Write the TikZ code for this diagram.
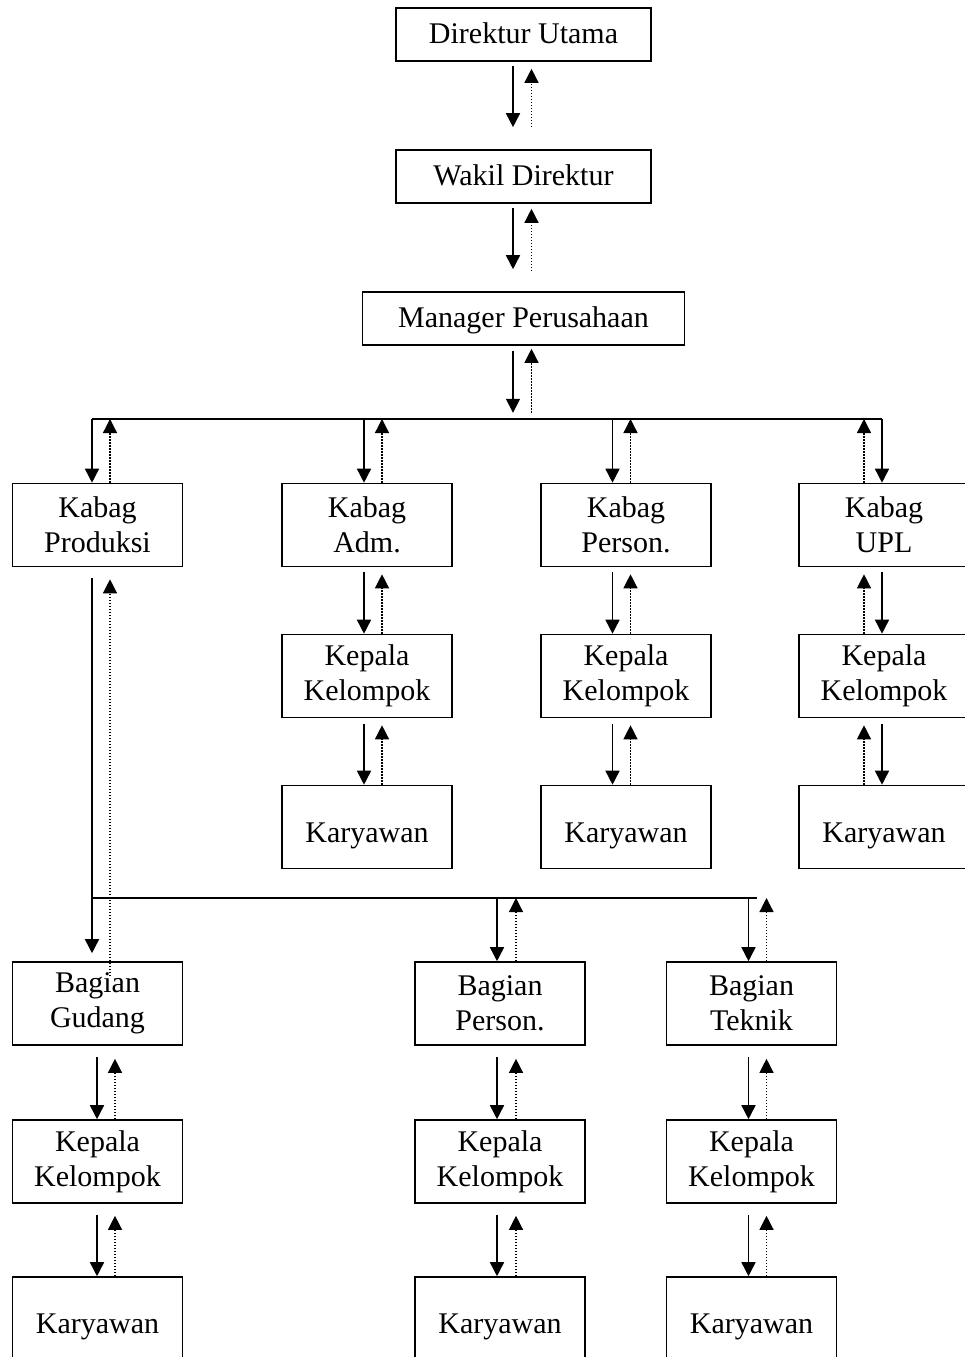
\documentclass[tikz,border=0pt]{standalone}
\usepackage{fontspec}
\setmainfont{Liberation Serif}
\usetikzlibrary{arrows.meta}

\begin{document}
\begin{tikzpicture}[x=1pt, y=-1pt,
  font=\fontsize{30}{35}\selectfont,
  box/.style={draw, line width=1.6pt, minimum width=170pt, minimum height=83pt, align=center, inner sep=0pt},
  wide/.style={box, minimum height=53pt, text height=23pt, text depth=6pt},
  low/.style={box, text height=36pt, text depth=6pt},
  down/.style={-{Triangle[length=14pt,width=14pt]}, line width=1.6pt},
  up/.style={-{Triangle[length=14pt,width=14pt]}, line width=1.3pt, dash pattern=on 1.5pt off 1.5pt},
]

\useasboundingbox (0,0) rectangle (964,1357);

% top
\node[wide, minimum width=255pt] (dirut) at (523.5,34.5) {Direktur Utama};
\node[wide, minimum width=255pt] (wadir) at (523.5,176.5) {Wakil Direktur};
\node[wide, minimum width=322pt] (manager) at (523.5,318.5) {Manager Perusahaan};

% kabag row
\node[box] (kprod) at (97.5,525) {Kabag\\Produksi};
\node[box] (kadm) at (367,525) {Kabag\\Adm.};
\node[box] (kpers) at (626,525) {Kabag\\Person.};
\node[box] (kupl) at (884,525) {Kabag\\UPL};

\node[box] (kkadm) at (367,676) {Kepala\\Kelompok};
\node[box] (kkpers) at (626,676) {Kepala\\Kelompok};
\node[box] (kkupl) at (884,676) {Kepala\\Kelompok};

\node[low] (karadm) at (367,827) {Karyawan};
\node[low] (karpers) at (626,827) {Karyawan};
\node[low] (karupl) at (884,827) {Karyawan};

% bagian row
\node[box] (bgud) at (97.5,1003.5) {Bagian\\Gudang};
\node[box] (bpers) at (500,1003.5) {Bagian\\Person.};
\node[box] (btek) at (751.5,1003.5) {Bagian\\Teknik};

\node[box] (kkgud) at (97.5,1161.5) {Kepala\\Kelompok};
\node[box] (kkbpers) at (500,1161.5) {Kepala\\Kelompok};
\node[box] (kkbtek) at (751.5,1161.5) {Kepala\\Kelompok};

\node[low] (kargud) at (97.5,1318.5) {Karyawan};
\node[low] (karbpers) at (500,1318.5) {Karyawan};
\node[low] (karbtek) at (751.5,1318.5) {Karyawan};

\coordinate (bus1L) at (92,419);
\coordinate (bus1R) at (882,419);
\coordinate (bus2L) at (92,898);
\coordinate (bus2R) at (757,898);

\draw[line width=1.6pt] (bus1L) -- (bus1R);
\draw[line width=1.6pt] (bus2L) -- (bus2R);

% top chain
\draw[down] ([xshift=-10.5pt,yshift=-4pt]dirut.south) -- ([xshift=-10.5pt,yshift=22pt]wadir.north);
\draw[up] ([xshift=8pt,yshift=22pt]wadir.north) -- ([xshift=8pt,yshift=-7pt]dirut.south);
\draw[down] ([xshift=-10.5pt,yshift=-4pt]wadir.south) -- ([xshift=-10.5pt,yshift=22pt]manager.north);
\draw[up] ([xshift=8pt,yshift=20pt]manager.north) -- ([xshift=8pt,yshift=-5pt]wadir.south);
\draw[down] ([xshift=-10.5pt,yshift=-5pt]manager.south) -- ([xshift=-10.5pt,yshift=-67pt]manager.south);
\draw[up] ([xshift=8pt,yshift=-67pt]manager.south) -- ([xshift=8pt,yshift=-3pt]manager.south);

% bus 1 to kabag
\draw[down] ([xshift=-5.5pt]kprod.north |- bus1L) -- ([xshift=-5.5pt]kprod.north);
\draw[up] ([xshift=12.5pt]kprod.north) -- ([xshift=12.5pt]kprod.north |- bus1L);
\draw[down] ([xshift=-3pt]kadm.north |- bus1L) -- ([xshift=-3pt]kadm.north);
\draw[up] ([xshift=15pt]kadm.north) -- ([xshift=15pt]kadm.north |- bus1L);
\draw[down] ([xshift=-13.5pt]kpers.north |- bus1L) -- ([xshift=-13.5pt]kpers.north);
\draw[up] ([xshift=4.5pt]kpers.north) -- ([xshift=4.5pt]kpers.north |- bus1L);
\draw[down] ([xshift=-2pt]kupl.north |- bus1L) -- ([xshift=-2pt]kupl.north);
\draw[up] ([xshift=-20pt]kupl.north) -- ([xshift=-20pt]kupl.north |- bus1L);

% kabag -> kepala -> karyawan
\draw[down] ([xshift=-3pt,yshift=-5pt]kadm.south) -- ([xshift=-3pt]kkadm.north);
\draw[up] ([xshift=15pt]kkadm.north) -- ([xshift=15pt,yshift=-7pt]kadm.south);
\draw[down] ([xshift=-3pt,yshift=-6pt]kkadm.south) -- ([xshift=-3pt]karadm.north);
\draw[up] ([xshift=15pt]karadm.north) -- ([xshift=15pt,yshift=-7pt]kkadm.south);

\draw[down] ([xshift=-13.5pt,yshift=-5pt]kpers.south) -- ([xshift=-13.5pt]kkpers.north);
\draw[up] ([xshift=4.5pt]kkpers.north) -- ([xshift=4.5pt,yshift=-7pt]kpers.south);
\draw[down] ([xshift=-13.5pt,yshift=-6pt]kkpers.south) -- ([xshift=-13.5pt]karpers.north);
\draw[up] ([xshift=4.5pt]karpers.north) -- ([xshift=4.5pt,yshift=-7pt]kkpers.south);

\draw[down] ([xshift=-2pt,yshift=-5pt]kupl.south) -- ([xshift=-2pt]kkupl.north);
\draw[up] ([xshift=-20pt]kkupl.north) -- ([xshift=-20pt,yshift=-7pt]kupl.south);
\draw[down] ([xshift=-2pt,yshift=-6pt]kkupl.south) -- ([xshift=-2pt]karupl.north);
\draw[up] ([xshift=-20pt]karupl.north) -- ([xshift=-20pt,yshift=-7pt]kkupl.south);

% produksi -> gudang
\draw[down] ([xshift=-5.5pt,yshift=-11pt]kprod.south) -- ([xshift=-5.5pt,yshift=8pt]bgud.north);
\draw[up] ([xshift=12.5pt,yshift=-15pt]bgud.north) -- ([xshift=12.5pt,yshift=-12pt]kprod.south);

% bus 2 to bagian
\draw[down] ([xshift=-3pt]bpers.north |- bus2L) -- ([xshift=-3pt]bpers.north);
\draw[up] ([xshift=16pt]bpers.north) -- ([xshift=16pt]bpers.north |- bus2L);
\draw[down] ([xshift=-3pt]btek.north |- bus2L) -- ([xshift=-3pt]btek.north);
\draw[up] ([xshift=15pt]btek.north) -- ([xshift=15pt]btek.north |- bus2L);

% bagian -> kepala -> karyawan
\draw[down] ([xshift=-0.5pt,yshift=-11pt]bgud.south) -- ([xshift=-0.5pt]kkgud.north);
\draw[up] ([xshift=17.5pt]kkgud.north) -- ([xshift=17.5pt,yshift=-13pt]bgud.south);
\draw[down] ([xshift=-0.5pt,yshift=-11pt]kkgud.south) -- ([xshift=-0.5pt]kargud.north);
\draw[up] ([xshift=17.5pt]kargud.north) -- ([xshift=17.5pt,yshift=-12pt]kkgud.south);

\draw[down] ([xshift=-3pt,yshift=-11pt]bpers.south) -- ([xshift=-3pt]kkbpers.north);
\draw[up] ([xshift=16pt]kkbpers.north) -- ([xshift=16pt,yshift=-13pt]bpers.south);
\draw[down] ([xshift=-3pt,yshift=-11pt]kkbpers.south) -- ([xshift=-3pt]karbpers.north);
\draw[up] ([xshift=16pt]karbpers.north) -- ([xshift=16pt,yshift=-12pt]kkbpers.south);

\draw[down] ([xshift=-3pt,yshift=-11pt]btek.south) -- ([xshift=-3pt]kkbtek.north);
\draw[up] ([xshift=15pt]kkbtek.north) -- ([xshift=15pt,yshift=-13pt]btek.south);
\draw[down] ([xshift=-3pt,yshift=-11pt]kkbtek.south) -- ([xshift=-3pt]karbtek.north);
\draw[up] ([xshift=15pt]karbtek.north) -- ([xshift=15pt,yshift=-12pt]kkbtek.south);

\end{tikzpicture}
\end{document}
